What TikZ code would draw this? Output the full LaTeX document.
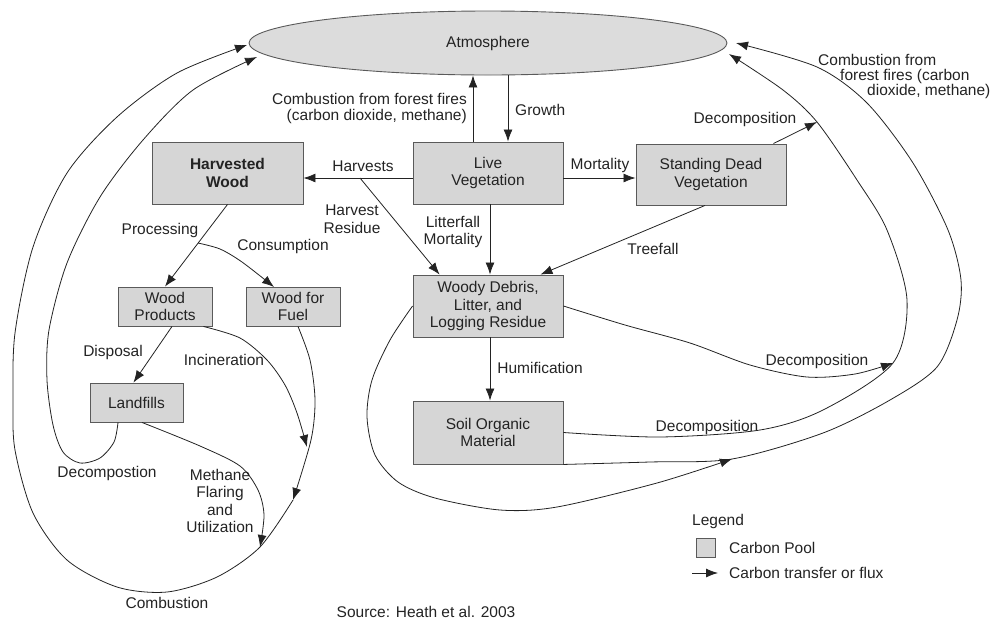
\documentclass[tikz,border=0pt]{standalone}
\usepackage{fontspec}
\setmainfont{Liberation Sans}
\usetikzlibrary{arrows.meta,shapes.geometric,calc}
\definecolor{poolfill}{RGB}{214,214,214}
\definecolor{atmfill}{RGB}{220,220,220}
\definecolor{edgec}{RGB}{90,90,90}
\definecolor{ink}{RGB}{35,35,35}
\begin{document}
\begin{tikzpicture}[x=1pt,y=-1pt,
  every node/.style={font=\fontsize{15.5}{17.5}\selectfont, text=ink},
  pool/.style={draw=edgec, fill=poolfill, line width=0.9pt, rectangle, align=center, inner sep=0pt},
  flux/.style={draw=ink, line width=0.8pt, -{Latex[length=12pt,width=9pt]}},
  lbl/.style={align=center, inner sep=0pt}]
\useasboundingbox (0,0) rectangle (991,619);

% pools
\node[draw=edgec, fill=atmfill, ellipse, minimum width=478pt, minimum height=64pt, inner sep=0pt, line width=0.9pt] (atm) at (488,43) {Atmosphere};
\node[pool, minimum width=150pt, minimum height=62pt] (LV) at (488,173) {Live\\Vegetation};
\node[pool, minimum width=151pt, minimum height=62pt, font=\fontsize{15.5}{17.5}\selectfont\bfseries] (HW) at (227.5,173) {Harvested\\Wood};
\node[pool, minimum width=150pt, minimum height=61pt] (SD) at (711,174.5) {Standing Dead\\Vegetation};
\node[pool, minimum width=150pt, minimum height=62pt] (WD) at (488,306) {Woody Debris,\\Litter, and\\Logging Residue};
\node[pool, minimum width=150pt, minimum height=63pt] (SO) at (488,432.5) {Soil Organic\\Material};
\node[pool, minimum width=94pt, minimum height=39pt] (WP) at (165,306.5) {Wood\\Products};
\node[pool, minimum width=94pt, minimum height=39pt] (WF) at (293,306.5) {Wood for\\Fuel};
\node[pool, minimum width=93pt, minimum height=39pt] (LF) at (136.5,402.5) {Landfills};

% junction / end coordinates
\coordinate (hr) at (360,178);
\coordinate (cs) at ($(HW.south)!0.47!(WP.north)$);
\coordinate (wfT) at (274,287);
\coordinate (jD1) at (893,363);
\coordinate (jD2) at (817,122);
\coordinate (jC) at (732,459);
\coordinate (aRo) at (736,43);
\coordinate (aRi) at (729,54);
\coordinate (aLo) at (247,45);
\coordinate (aLi) at (257,57);
\coordinate (jI) at (307,447);
\coordinate (jF) at (293,500);
\coordinate (jM) at (260,547);
\coordinate (lfd) at ($(LF.south)+(-18.5,0)$);
\coordinate (lfm) at ($(LF.south)+(5.5,0)$);
\coordinate (wpi) at ($(WP.south east)+(-9,0)$);
\coordinate (wfs) at ($(WF.south)+(5,0)$);

% straight fluxes
\draw[flux] ($(LV.north)+(-15,0)$) -- ($(atm.south)+(-15,0)$);
\draw[flux] ($(atm.south)+(20,0)$) -- ($(LV.north)+(20,0)$);
\draw[flux] ($(LV.west)+(0,5)$) -- ($(HW.east)+(0,5)$);
\draw[flux] (hr) -- ($(WD.north west)+(27,0)$);
\draw[flux] ($(LV.south)+(2,0)$) -- ($(WD.north)+(2,0)$);
\draw[flux] ($(LV.east)+(0,5)$) -- ($(SD.west)+(0,3.5)$);
\draw[flux] ($(SD.south)+(-6,0)$) -- ($(WD.north east)+(-23,0)$);
\draw[flux] ($(SD.north east)+(-13,0)$) -- (jD2);
\draw[flux] ($(WD.south)+(2,0)$) -- ($(SO.north)+(2,0)$);
\draw[flux] (HW.south) -- (WP.north);
\draw[flux] plot[smooth] coordinates {(cs) (220,249) (242,262) (wfT)};
\draw[flux] ($(WP.south)+(7,0)$) -- ($(LF.north)+(-3,0)$);

% right-hand curves
\draw[flux] plot[smooth] coordinates {(SO.east) (660,437) (760,430) (823,410) (jD1) (907,300) (887,230) (857,180) (jD2) (783,90) (aRi)};
\draw[flux] plot[smooth] coordinates {(SO.south east) (650,462) (jC) (823,433) (890,400) (937,367) (957,320) (961,280) (948,230) (913,163) (867,103) (817,67) (aRo)};
\draw[flux] plot[smooth] coordinates {(WD.east) (625,325) (690,343) (750,365) (807,377) (855,374) (jD1)};
\draw[flux] plot[smooth] coordinates {(WD.west) (390,340) (372,380) (367,417) (375,455) (398,482) (435,498) (500,510) (557,507) (657,483) (jC)};

% left-hand curves
\draw[flux] plot[smooth] coordinates {(lfd) (114,442) (100,458) (80,463) (63,452) (53,425) (47,380) (49,330) (67,263) (100,197) (143,140) (193,90) (aLi)};
\draw[flux] plot[smooth] coordinates {(wfs) (310,360) (315,400) (311,440) (jF)};
\draw[flux] plot[smooth] coordinates {(jF) (jM) (217,577) (167,592) (117,587) (67,560) (33,513) (15,450) (13,400) (15,333) (33,247) (67,173) (117,117) (177,73) (aLo)};
\draw[flux] plot[smooth] coordinates {(wpi) (240,338) (267,360) (285,385) (297,413) (jI)};
\draw[flux] plot[smooth] coordinates {(lfm) (200,446) (240,466) (258,490) (264,515) (jM)};

% labels
\node[lbl, anchor=east, align=right, font=\fontsize{15.5}{16}\selectfont] (tCombL) at (467,108) {Combustion from forest fires\\(carbon dioxide, methane)};
\node[lbl, anchor=west] (tGrowth) at (515,110) {Growth};
\node[lbl] (tHarv) at (363,166) {Harvests};
\node[lbl] (tHR) at (352,219) {Harvest\\Residue};
\node[lbl] (tLit) at (453,232) {Litterfall\\Mortality};
\node[lbl] (tProc) at (160,230) {Processing};
\node[lbl] (tCons) at (283,246) {Consumption};
\node[lbl] (tMort) at (600,165) {Mortality};
\node[lbl] (tDecSD) at (745,119) {Decomposition};
\node[lbl, anchor=west, align=left, font=\fontsize{15.5}{15}\selectfont] (tCombR) at (818,76) {Combustion from\\\hspace*{22pt}forest fires (carbon\\\hspace*{49pt}dioxide, methane)};
\node[lbl] (tTree) at (653,249) {Treefall};
\node[lbl] (tHum) at (540,368) {Humification};
\node[lbl] (tDecWD) at (817,361) {Decomposition};
\node[lbl] (tDecSO) at (707,427) {Decomposition};
\node[lbl] (tDisp) at (113,352) {Disposal};
\node[lbl] (tInc) at (224,360) {Incineration};
\node[lbl] (tDecLF) at (107,473) {Decompostion};
\node[lbl] (tMeth) at (220,501) {Methane\\Flaring\\and\\Utilization};
\node[lbl] (tComb) at (167,603) {Combustion};
\node[lbl] (tSrc) at (426,612) {Source: Heath et al. 2003};

% legend
\node[lbl, anchor=west] (tLeg) at (692,521) {Legend};
\node[draw=edgec, fill=poolfill, minimum width=19pt, minimum height=19pt, inner sep=0pt, line width=0.9pt] (lgbox) at (705.5,547.5) {};
\node[lbl, anchor=west] (tPool) at (729,548) {Carbon Pool};
\coordinate (lga) at (692,573);
\coordinate (lgb) at (718,573);
\draw[flux] (lga) -- (lgb);
\node[lbl, anchor=west] (tFlux) at (729,573) {Carbon transfer or flux};
\end{tikzpicture}
\end{document}
